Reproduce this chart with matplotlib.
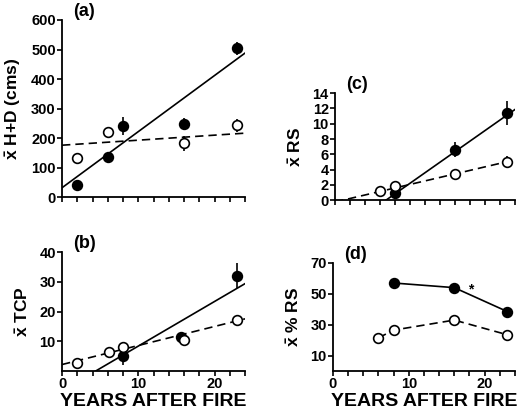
import numpy as np
import matplotlib.pyplot as plt

plt.rcParams['font.family'] = ['Liberation Sans', 'DejaVu Sans']
plt.rcParams['font.weight'] = 'bold'
plt.rcParams['mathtext.fontset'] = 'custom'
plt.rcParams['mathtext.bf'] = 'Liberation Sans:bold'
plt.rcParams['mathtext.rm'] = 'Liberation Sans:bold'
plt.rcParams['mathtext.default'] = 'bf'

# (a) mean height + diameter
a_x_fill = [2, 6, 8, 16, 23]
a_y_fill = [42, 137, 242, 249, 505]
a_e_fill = [8, 12, 30, 18, 22]
a_x_open = [2, 6, 16, 23]
a_y_open = [132, 220, 183, 243]
a_e_open = [10, 18, 25, 22]
a_fit_fill = (32, 19.0)     # intercept, slope
a_fit_open = (176, 1.7)

# (b) mean TCP
b_x_fill = [8, 15.6, 23]
b_y_fill = [5.0, 11.3, 32]
b_e_fill = [2.8, 1.5, 4.2]
b_x_open = [2, 6.2, 8, 16, 23]
b_y_open = [2.6, 6.5, 8.2, 10.6, 17.3]
b_e_open = [0.6, 0.8, 1.0, 1.2, 1.2]
b_fit_fill = (-6.6, 1.5)
b_fit_open = (2.2, 0.64)

# (c) mean RS
c_x_fill = [8, 16, 23]
c_y_fill = [0.9, 6.6, 11.4]
c_e_fill = [0.3, 1.0, 1.6]
c_x_open = [6, 8, 16, 23]
c_y_open = [1.2, 1.8, 3.4, 5.0]
c_e_open = [0.2, 0.5, 0.4, 0.8]
c_fit_fill = (-4.7, 0.69)
c_fit_open = (-0.25, 0.23)

# (d) mean % RS
d_x_fill = [8, 16, 23]
d_y_fill = [57, 54, 38.5]
d_e_fill = [3, 2.5, 2]
d_x_open = [6, 8, 16, 23]
d_y_open = [21.5, 26.5, 33, 23.5]
d_e_open = [2.5, 3, 3, 2.5]

fig = plt.figure(figsize=(5.17, 4.16), dpi=100)
ax_a = fig.add_axes([0.120, 0.526, 0.354, 0.426])
ax_b = fig.add_axes([0.120, 0.108, 0.354, 0.286])
ax_c = fig.add_axes([0.648, 0.519, 0.348, 0.257])
ax_d = fig.add_axes([0.644, 0.108, 0.352, 0.260])

xs = np.array([0, 24])
xbar = r'$\bar{x}$'


def style(ax, ylim, yticks, label, tag, xlabels):
    ax.set_xlim(0, 24)
    ax.set_ylim(*ylim)
    ax.set_yticks(yticks)
    ax.set_xticks(np.arange(0, 25, 2))
    if xlabels:
        ax.set_xticklabels(['0' if t == 0 else str(t) if t % 10 == 0 else '' for t in range(0, 25, 2)])
        ax.set_xlabel('YEARS AFTER FIRE', fontsize=14, fontweight='bold', labelpad=1)
    else:
        ax.set_xticklabels([])
    for s in ['top', 'right']:
        ax.spines[s].set_visible(False)
    for s in ['left', 'bottom']:
        ax.spines[s].set_linewidth(1.3)
    ax.tick_params(direction='out', length=3.5, width=1.2, labelsize=10.5, pad=1)
    ax.set_ylabel(xbar + ' ' + label, fontsize=12.5, fontweight='bold', labelpad=6)
    ax.text(0.06, 1.0, tag, transform=ax.transAxes, fontsize=13, fontweight='bold', va='bottom')


def points(ax, x, y, e, filled):
    ax.errorbar(x, y, yerr=e, fmt='o', ms=7, mew=1.2, color='black',
                mfc='black' if filled else 'white', elinewidth=1.2, capsize=0, zorder=3)


def fit(ax, coef, ls):
    ax.plot(xs, coef[0] + coef[1] * xs, color='black', lw=1.2, ls=ls)


dash = (0, (5, 3))

# (a)
fit(ax_a, a_fit_fill, '-')
fit(ax_a, a_fit_open, dash)
points(ax_a, a_x_fill, a_y_fill, a_e_fill, True)
points(ax_a, a_x_open, a_y_open, a_e_open, False)
style(ax_a, (0, 600), range(0, 601, 100), 'H+D (cms)', '(a)', False)

# (b)
fit(ax_b, b_fit_fill, '-')
fit(ax_b, b_fit_open, dash)
points(ax_b, b_x_fill, b_y_fill, b_e_fill, True)
points(ax_b, b_x_open, b_y_open, b_e_open, False)
style(ax_b, (0, 40), [10, 20, 30, 40], 'TCP', '(b)', True)

# (c)
fit(ax_c, c_fit_fill, '-')
fit(ax_c, c_fit_open, dash)
points(ax_c, c_x_fill, c_y_fill, c_e_fill, True)
points(ax_c, c_x_open, c_y_open, c_e_open, False)
style(ax_c, (0, 14), range(0, 15, 2), 'RS', '(c)', False)

# (d) joined means
ax_d.plot(d_x_fill, d_y_fill, color='black', lw=1.2)
ax_d.plot(d_x_open, d_y_open, color='black', lw=1.2, ls=dash)
points(ax_d, d_x_fill, d_y_fill, d_e_fill, True)
points(ax_d, d_x_open, d_y_open, d_e_open, False)
ax_d.text(18.2, 53, '*', fontsize=10, fontweight='bold', ha='center', va='center')
style(ax_d, (0, 70), [10, 30, 50, 70], '% RS', '(d)', True)

fig.savefig('out.png', dpi=100)
